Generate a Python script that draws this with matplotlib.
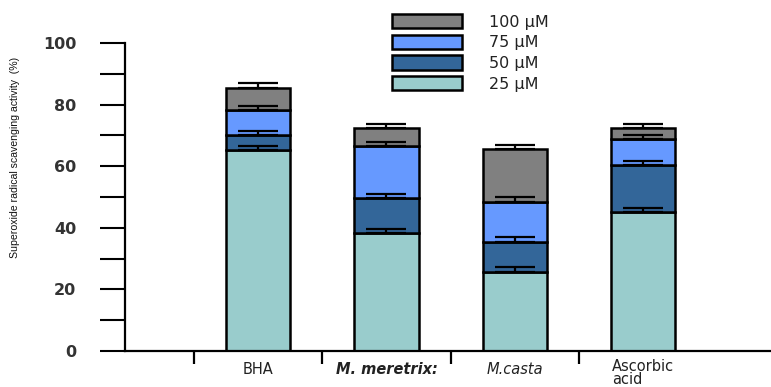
import matplotlib
matplotlib.use("Agg")
import matplotlib.pyplot as plt
from matplotlib.patches import Patch
import numpy as np

# Data: stacked segment heights (%) for each concentration
categories = ["BHA", "M. meretrix:", "M.casta", "Ascorbic\nacid"]
concentrations = ["25 µM", "50 µM", "75 µM", "100 µM"]
seg_25 = [65.3, 38.4, 25.6, 45.2]
seg_50 = [4.8, 11.2, 9.7, 15.2]
seg_75 = [8.1, 16.9, 13.2, 8.3]
seg_100 = [7.1, 5.8, 17.0, 3.7]
err_25 = [1.2, 1.3, 1.8, 1.1]
err_50 = [1.3, 1.4, 1.8, 1.4]
err_75 = [1.4, 1.5, 1.6, 1.4]
err_100 = [1.6, 1.3, 1.3, 1.3]

colors = ["#99CCCC", "#336699", "#6699FF", "#808080"]

fig = plt.figure(figsize=(7.71, 3.87), dpi=100)
ax = fig.add_axes([125 / 771, 36 / 387, 646 / 771, 308 / 387])

x = np.arange(1, len(categories) + 1)
width = 0.5
segments = [seg_25, seg_50, seg_75, seg_100]
errors = [err_25, err_50, err_75, err_100]
bottom = np.zeros(len(categories))
for seg, err, col in zip(segments, errors, colors):
    seg = np.array(seg)
    ax.bar(x, seg, width, bottom=bottom, color=col, edgecolor="black",
           linewidth=1.8, zorder=2)
    top = bottom + seg
    ax.errorbar(x, top, yerr=[np.zeros_like(top), np.array(err)], fmt="none",
                ecolor="black", elinewidth=1.6, capsize=14.5, capthick=1.6,
                zorder=3)
    bottom = top

ax.set_xlim(-0.04, 5.0)
ax.set_ylim(0, 100)

for side in ("top", "right"):
    ax.spines[side].set_visible(False)
for side in ("left", "bottom"):
    ax.spines[side].set_linewidth(1.6)

ax.set_yticks(np.arange(0, 101, 20))
ax.set_yticks(np.arange(10, 100, 20), minor=True)
ax.tick_params(axis="y", which="both", length=18, width=1.5, direction="out",
               pad=17, labelsize=11.5, labelcolor="#333333")
for lab in ax.get_yticklabels():
    lab.set_fontweight("bold")

ax.set_xticks(x)
ax.set_xticklabels([])
ax.set_xticks(np.arange(0.5, 4.0, 1.0), minor=True)
ax.tick_params(axis="x", which="major", length=0)
ax.tick_params(axis="x", which="minor", length=9, width=1.6, direction="out")

label_styles = [
    dict(style="normal", weight="normal"),
    dict(style="italic", weight="bold"),
    dict(style="italic", weight="normal"),
    dict(style="normal", weight="normal"),
]
label_offsets = [-11, -11, -11, -8]
for xi, name, st, off in zip(x, categories, label_styles, label_offsets):
    ax.annotate(name, xy=(xi, 0), xycoords=("data", "axes fraction"),
                xytext=(0, off), textcoords="offset pixels",
                ha="center", va="top", fontsize=10.5, color="#222222",
                multialignment="left", linespacing=0.85, **st)

ax.set_ylabel("Superoxide radical scavenging activity  (%)",
              family="Liberation Sans", fontsize=7.6, color="#111111")
ax.yaxis.set_label_coords(-0.163, 0.63)

handles = [Patch(facecolor=c, edgecolor="black", linewidth=1.8) for c in colors]
fig.legend(handles[::-1], concentrations[::-1], loc="upper left",
           bbox_to_anchor=(392 / 771, 1 - 14 / 387), frameon=False,
           fontsize=11.5, handlelength=4.4, handleheight=1.0,
           labelspacing=0.32, handletextpad=1.7, borderpad=0,
           borderaxespad=0, labelcolor="#222222")

fig.savefig("out.png", dpi=100)
